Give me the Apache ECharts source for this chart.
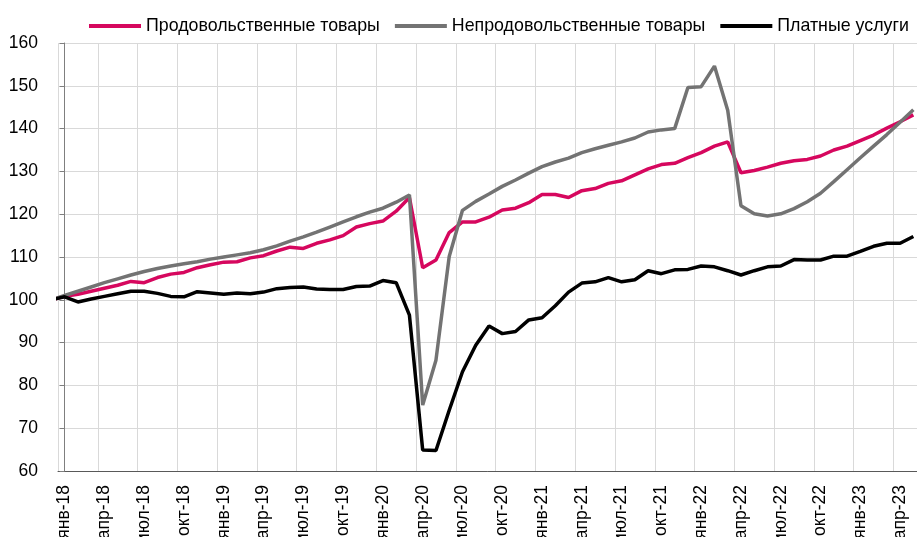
<!DOCTYPE html>
<html>
<head>
<meta charset="utf-8">
<script src="https://cdn.jsdelivr.net/npm/echarts@6/dist/echarts.min.js"></script>
<style>
  html, body { margin: 0; padding: 0; background: #fff; }
  #chart { width: 917px; height: 537px; }
</style>
</head>
<body>
<div id="chart"></div>
<script>
// месяцы: янв-18 ... май-23
const labels = [
  'янв-18','фев-18','мар-18','апр-18','май-18','июн-18','июл-18','авг-18','сен-18','окт-18','ноя-18','дек-18',
  'янв-19','фев-19','мар-19','апр-19','май-19','июн-19','июл-19','авг-19','сен-19','окт-19','ноя-19','дек-19',
  'янв-20','фев-20','мар-20','апр-20','май-20','июн-20','июл-20','авг-20','сен-20','окт-20','ноя-20','дек-20',
  'янв-21','фев-21','мар-21','апр-21','май-21','июн-21','июл-21','авг-21','сен-21','окт-21','ноя-21','дек-21',
  'янв-22','фев-22','мар-22','апр-22','май-22','июн-22','июл-22','авг-22','сен-22','окт-22','ноя-22','дек-22',
  'янв-23','фев-23','мар-23','апр-23','май-23'
]

// дек-17 = 100
const base = 100

const food = [
  100.8, 101.3, 102.0, 102.7, 103.4, 104.3, 104.0, 105.2, 106.0, 106.4, 107.5, 108.2,
  108.8, 108.9, 109.8, 110.3, 111.4, 112.3, 112.0, 113.2, 114.0, 115.0, 117.0, 117.8,
  118.4, 120.7, 123.9, 107.5, 109.3, 115.7, 118.2, 118.2, 119.3, 121.0, 121.4, 122.7,
  124.6, 124.6, 123.9, 125.5, 126.0, 127.2, 127.8, 129.2, 130.6, 131.6, 131.9, 133.2,
  134.4, 135.9, 136.9, 129.7, 130.2, 131.0, 131.9, 132.5, 132.8, 133.6, 135.0, 135.9,
  137.2, 138.5, 140.1, 141.6, 143.2
]

const nonFood = [
  101.0, 102.0, 103.0, 104.0, 104.9, 105.8, 106.6, 107.3, 107.9, 108.4, 108.9, 109.5,
  110.0, 110.5, 111.0, 111.7, 112.6, 113.7, 114.7, 115.8, 117.0, 118.2, 119.4, 120.5,
  121.4, 122.8, 124.5, 75.4, 85.9, 110.1, 120.9, 123.0, 124.7, 126.5, 128.0, 129.6,
  131.1, 132.2, 133.1, 134.4, 135.3, 136.1, 136.9, 137.8, 139.2, 139.7, 140.0, 149.6,
  149.8, 154.6, 144.3, 122.0, 120.1, 119.6, 120.1, 121.3, 122.9, 124.9, 127.6, 130.4,
  133.2, 135.9, 138.6, 141.5, 144.4
]

const services = [
  100.7, 99.5, 100.2, 100.8, 101.4, 102.0, 102.0, 101.5, 100.8, 100.7, 101.9, 101.6,
  101.3, 101.6, 101.4, 101.8, 102.6, 102.9, 103.0, 102.5, 102.4, 102.4, 103.1, 103.2,
  104.5, 104.0, 96.4, 64.9, 64.8, 74.2, 83.2, 89.4, 93.9, 92.1, 92.6, 95.3,
  95.8, 98.6, 101.8, 103.9, 104.2, 105.2, 104.2, 104.7, 106.8, 106.1, 107.0, 107.1,
  107.9, 107.7, 106.8, 105.8, 106.8, 107.7, 107.9, 109.4, 109.3, 109.3, 110.2, 110.2,
  111.3, 112.5, 113.2, 113.2, 114.8
]

const font = "'Liberation Sans', Arial, sans-serif"

function withBase(arr) {
  let out = [[-1, base]]
  arr.forEach((v, i) => out.push([i, v]))
  return out
}

function makeSeries(name, color, arr) {
  return {
    name: name,
    type: 'line',
    xAxisIndex: 1,
    data: withBase(arr),
    showSymbol: false,
    symbol: 'none',
    clip: true,
    color: color,
    lineStyle: { width: 3.5, color: color },
    animation: false,
  }
}

const chart = echarts.init(document.getElementById('chart'))
chart.setOption({
  backgroundColor: '#fff',
  animation: false,
  grid: { left: 58, right: -3, top: 43, bottom: 66, outerBoundsMode: 'none', containLabel: false },
  legend: {
    left: 84,
    top: 12,
    icon: 'rect',
    itemWidth: 52,
    itemHeight: 4,
    itemGap: 15,
    textStyle: { fontFamily: font, fontSize: 17.8, color: '#000' },
    data: ['Продовольственные товары', 'Непродовольственные товары', 'Платные услуги'],
  },
  xAxis: [
    {
      type: 'category',
      data: labels,
      boundaryGap: true,
      axisLine: { lineStyle: { color: '#595959', width: 1 } },
      axisTick: { show: false },
      axisLabel: {
        interval: 2,
        rotate: 90,
        margin: 14,
        fontFamily: font,
        fontSize: 17.5,
        color: '#000',
      },
      splitLine: { show: true, interval: 2, lineStyle: { color: '#d9d9d9', width: 1 } },
    },
    {
      type: 'value',
      min: -0.5,
      max: 64.5,
      show: false,
      position: 'top',
      splitLine: { show: false },
    },
  ],
  yAxis: {
    type: 'value',
    min: 60,
    max: 160,
    interval: 10,
    axisLine: { show: true, lineStyle: { color: '#7f7f7f', width: 1 } },
    axisTick: { show: true, length: 5, lineStyle: { color: '#7f7f7f' } },
    axisLabel: { margin: 20, fontFamily: font, fontSize: 17.5, color: '#000' },
    splitLine: { show: true, lineStyle: { color: '#d9d9d9', width: 1 } },
  },
  series: [
    makeSeries('Продовольственные товары', '#d6075e', food),
    makeSeries('Непродовольственные товары', '#737373', nonFood),
    makeSeries('Платные услуги', '#000000', services),
  ],
})
</script>
</body>
</html>
